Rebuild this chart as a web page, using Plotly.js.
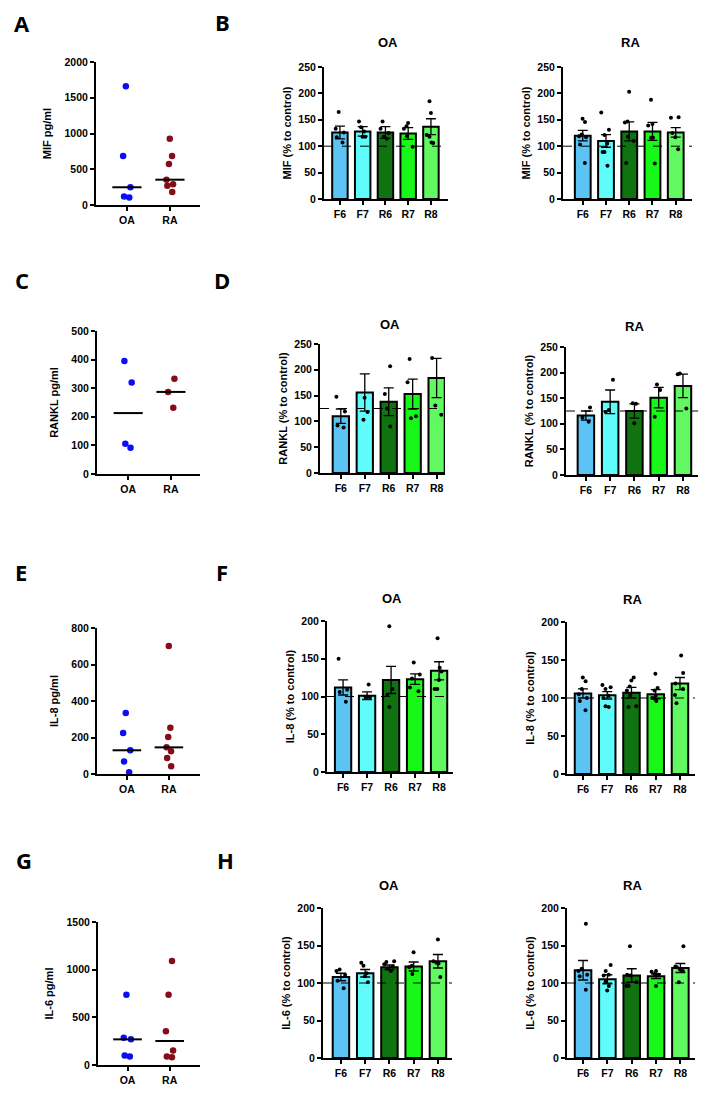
<!DOCTYPE html>
<html><head><meta charset="utf-8">
<script src="https://cdn.plot.ly/plotly-3.0.1.min.js"></script>
<style>html,body{margin:0;padding:0;background:#fff}#chart{width:711px;height:1094px}</style>
</head><body><div id="chart"></div>
<script>
// ---------------- DATA ----------------
const groupCats = ['OA', 'RA'];
const barCats = ['F6', 'F7', 'R6', 'R7', 'R8'];

// A: MIF pg/ml
const mifOA = [1660, 685, 248, 105, 118];
const mifRA = [928, 686, 574, 354, 290, 270, 182];
// C: RANKL pg/ml
const ranklOA = [395, 320, 92, 106];
const ranklRA = [333, 287, 232];
// E: IL-8 pg/ml
const il8OA = [334, 225, 130, 69, 9];
const il8RA = [701, 254, 203, 146, 124, 88, 42];
// G: IL-6 pg/ml
const il6OA = [737, 286, 269, 100, 90];
const il6RA = [1092, 737, 353, 151, 90, 80];

// B: MIF (% to control)
const mifOAMean = [126, 128, 126, 124, 137];
const mifOASem = [12, 9, 11, 11, 15];
const mifOAPts = [[165,133,126,117,107],[147,136,128,118,118],[147,133,125,118,114],[144,138,133,119,99],[185,163,121,118,106,107]];
const mifRAMean = [120, 110, 128, 128, 126];
const mifRASem = [10, 12, 18, 17, 9];
const mifRAPts = [[152,146,122,119,117,103,68],[164,131,121,105,89,89,63],[203,147,145,118,110,68],[188,142,139,116,116,67],[155,154,125,117,94]];

// D: RANKL (% to control)
const ranklOAMean = [110, 156, 138, 153, 184];
const ranklOASem = [14, 36, 27, 29, 38];
const ranklOAPts = [[148,119,92,88],[146,118,103],[207,153,125,90],[221,176,110,106],[223,131,113]];
const ranklRAMean = [116, 143, 125, 151, 174];
const ranklRASem = [9, 23, 14, 20, 23];
const ranklRAPts = [[132,112,104],[186,127,123],[140,139,101],[177,166,114],[198,197,130]];

// F: IL-8 (% to control)
const il8OAMean = [112, 101, 122, 123, 134];
const il8OASem = [10, 5, 18, 7, 12];
const il8OAPts = [[150,109,106,93],[116,100,99,98],[193,110,102,86],[145,129,124,112,107],[177,138,133,122,110,110]];
const il8RAMean = [106, 103.5, 107, 105, 119];
const il8RASem = [6, 5, 7, 6, 8];
const il8RAPts = [[127,122,112,105,100,96,84],[117,114,112,103,100,88,89],[127,123,115,110,103,89,88],[132,113,110,103,100,99,96],[156,133,119,112,104,93]];

// H: IL-6 (% to control)
const il6OAMean = [108, 113, 121, 122, 129];
const il6OASem = [5, 5, 3, 6, 9];
const il6OAPts = [[118,116,111,103,93],[127,123,113,109,101],[129,128,125,122,119,116],[141,123,121,112],[158,129,127,126,108]];
const il6RAMean = [117, 105, 110, 109, 120];
const il6RASem = [13, 6, 9, 3, 6];
const il6RAPts = [[179,119,116,111,109,91],[124,116,111,110,102,96,90],[149,111,110,101,96,96],[116,115,112,111,111,96],[149,122,121,118,116,101]];

// reference (control) lines
const mifRef = 100, ranklRef = 125, il8Ref = 100, il6Ref = 100;

// ---------------- STYLE / LAYOUT ----------------
const W = 711, H = 1094;
const FONT = '"Liberation Sans", Arial, sans-serif';
const barColors = ['#5cc4f4', '#60fcfc', '#0f730f', '#18f818', '#62f862'];
const oaColor = '#0c0cf6', raColor = '#860c18';
const px = a => a / W;
const py = b => 1 - b / H;

const traces = [];
const layout = {
  width: W, height: H, margin: {l: 0, r: 0, t: 0, b: 0},
  showlegend: false, paper_bgcolor: 'white', plot_bgcolor: 'white',
  boxmode: 'overlay', barmode: 'overlay',
  font: {family: FONT, color: 'black'},
  shapes: [], annotations: []
};

let axN = 0;
function makeAxes(g, cats, ymax, dtick, title, standoff) {
  axN++;
  const xn = axN === 1 ? 'xaxis' : 'xaxis' + axN;
  const yn = axN === 1 ? 'yaxis' : 'yaxis' + axN;
  const xid = axN === 1 ? 'x' : 'x' + axN;
  const yid = axN === 1 ? 'y' : 'y' + axN;
  const common = {showline: true, linecolor: 'black', linewidth: 2, ticks: 'outside', ticklen: 4,
    tickwidth: 2, tickcolor: 'black', showgrid: false, zeroline: false, fixedrange: true,
    tickfont: {family: FONT, size: 10.5, weight: 700, color: 'black'}};
  layout[xn] = Object.assign({}, common, {domain: [px(g.x[0]), px(g.x[1])], anchor: yid,
    type: 'category', categoryorder: 'array', categoryarray: cats, range: g.xr});
  layout[yn] = Object.assign({}, common, {domain: [py(g.y[1]), py(g.y[0])], anchor: xid,
    range: [0, ymax], tick0: 0, dtick: dtick,
    title: {text: title, standoff: standoff, font: {family: FONT, size: 11, weight: 700, color: 'black'}}});
  return {xid, yid};
}

function median(arr) {
  const s = arr.slice().sort((a, b) => a - b);
  const m = Math.floor(s.length / 2);
  return s.length % 2 ? s[m] : (s[m - 1] + s[m]) / 2;
}

function scatterPanel(g, oa, ra, ymax, dtick, title) {
  const ax = makeAxes(g, groupCats, ymax, dtick, title, 11);
  [[oa, 'OA', oaColor, 0], [ra, 'RA', raColor, 1]].forEach(([vals, cat, col, idx]) => {
    traces.push({type: 'box', x: vals.map(() => cat), y: vals, xaxis: ax.xid, yaxis: ax.yid,
      boxpoints: 'all', jitter: 0.35, pointpos: 0, width: 0.6,
      fillcolor: 'rgba(0,0,0,0)', line: {color: 'rgba(0,0,0,0)', width: 0},
      marker: {color: col, size: 6.5}, hoverinfo: 'skip'});
    const md = median(vals);
    layout.shapes.push({type: 'line', xref: ax.xid, yref: ax.yid, x0: idx - 0.34, x1: idx + 0.34,
      y0: md, y1: md, line: {color: 'black', width: 2}});
  });
}

function barPanel(g, means, sems, pts, ref, ymax, title, group) {
  const ax = makeAxes(g, barCats, ymax, 50, title, 5);
  traces.push({type: 'bar', x: barCats, y: means, xaxis: ax.xid, yaxis: ax.yid, width: 0.68,
    marker: {color: barColors, line: {color: 'black', width: 2}},
    error_y: {type: 'data', array: sems, visible: true, color: 'black', thickness: 1.3, width: 5},
    hoverinfo: 'skip'});
  const bx = [], by = [];
  pts.forEach((arr, i) => arr.forEach(v => { bx.push(barCats[i]); by.push(v); }));
  traces.push({type: 'box', x: bx, y: by, xaxis: ax.xid, yaxis: ax.yid,
    boxpoints: 'all', jitter: 0.8, pointpos: 0, width: 0.55,
    fillcolor: 'rgba(0,0,0,0)', line: {color: 'rgba(0,0,0,0)', width: 0},
    marker: {color: 'black', size: 4}, hoverinfo: 'skip'});
  layout.shapes.push({type: 'line', xref: ax.xid + ' domain', yref: ax.yid, x0: 0, x1: 1,
    y0: ref, y1: ref, line: {color: 'black', width: 1, dash: 'dash'}});
  layout.annotations.push({xref: 'paper', yref: 'paper', x: px(g.tx), y: py(g.ty),
    text: group, showarrow: false, xanchor: 'center', yanchor: 'middle',
    font: {family: FONT, size: 13, weight: 700, color: 'black'}});
}

// Row 1
scatterPanel({x: [96, 200], y: [62, 205], xr: [-0.72, 1.7]}, mifOA, mifRA, 2000, 500, 'MIF pg/ml');
barPanel({x: [324, 448], y: [67, 199], xr: [-0.7, 4.75], tx: 388, ty: 42}, mifOAMean, mifOASem, mifOAPts, mifRef, 250, 'MIF (% to control)', 'OA');
barPanel({x: [563, 692], y: [67, 199], xr: [-0.85, 4.7], tx: 630, ty: 42}, mifRAMean, mifRASem, mifRAPts, mifRef, 250, 'MIF (% to control)', 'RA');
// Row 2
scatterPanel({x: [97, 200], y: [331, 474], xr: [-0.73, 1.68]}, ranklOA, ranklRA, 500, 100, 'RANKL pg/ml');
barPanel({x: [320, 445], y: [344, 473], xr: [-0.87, 4.35], tx: 390, ty: 324}, ranklOAMean, ranklOASem, ranklOAPts, ranklRef, 250, 'RANKL (% to control)', 'OA');
barPanel({x: [566, 698], y: [347, 475], xr: [-0.82, 4.62], tx: 634, ty: 326}, ranklRAMean, ranklRASem, ranklRAPts, ranklRef, 250, 'RANKL (% to control)', 'RA');
// Row 3
scatterPanel({x: [97, 200], y: [628, 774], xr: [-0.71, 1.74]}, il8OA, il8RA, 800, 200, 'IL-8 pg/ml');
barPanel({x: [327, 453], y: [621, 772], xr: [-0.67, 4.58], tx: 392, ty: 598}, il8OAMean, il8OASem, il8OAPts, il8Ref, 200, 'IL-8 (% to control)', 'OA');
barPanel({x: [567, 695], y: [622, 774], xr: [-0.66, 4.62], tx: 632, ty: 599}, il8RAMean, il8RASem, il8RAPts, il8Ref, 200, 'IL-8 (% to control)', 'RA');
// Row 4
scatterPanel({x: [98, 200], y: [922, 1065], xr: [-0.7, 1.72]}, il6OA, il6RA, 1500, 500, 'IL-6 pg/ml');
barPanel({x: [323, 452], y: [908, 1058], xr: [-0.74, 4.58], tx: 389, ty: 885}, il6OAMean, il6OASem, il6OAPts, il6Ref, 200, 'IL-6 (% to control)', 'OA');
barPanel({x: [567, 695], y: [908, 1058], xr: [-0.66, 4.6], tx: 632, ty: 885}, il6RAMean, il6RASem, il6RAPts, il6Ref, 200, 'IL-6 (% to control)', 'RA');

// Panel letters
const letters = [['A', 22, 23], ['B', 222, 22], ['C', 22, 280], ['D', 222, 280],
                 ['E', 21, 572], ['F', 222, 572], ['G', 24, 860], ['H', 225, 860]];
letters.forEach(([t, x, y]) => layout.annotations.push({xref: 'paper', yref: 'paper', x: px(x), y: py(y),
  text: t, showarrow: false, xanchor: 'center', yanchor: 'middle',
  font: {family: '"Open Sans", "Liberation Sans", sans-serif', size: 22, weight: 700, color: 'black'}}));

Plotly.newPlot('chart', traces, layout, {staticPlot: true, displayModeBar: false});
</script></body></html>
